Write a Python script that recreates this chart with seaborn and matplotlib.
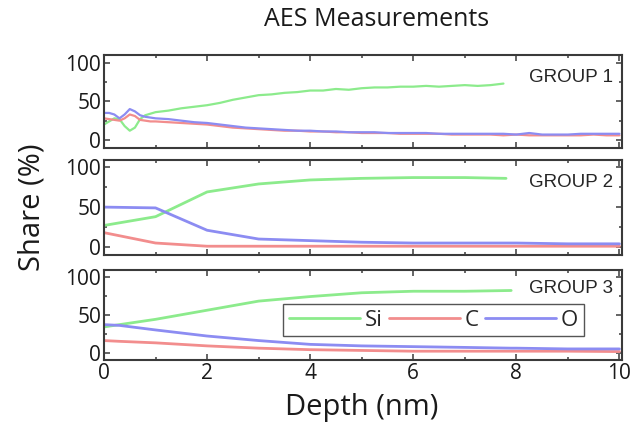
import numpy as np
import pandas as pd
import matplotlib
matplotlib.use("Agg")
import matplotlib.pyplot as plt
import seaborn as sns
from matplotlib.ticker import MultipleLocator

# ---------------- data ----------------
elements = ["Si", "C", "O"]
group_names = ["GROUP 1", "GROUP 2", "GROUP 3"]

# Group 1 (noisy measurement)
depth1 = [0.0, 0.1, 0.2, 0.3, 0.4, 0.5, 0.6, 0.7, 0.8, 0.9, 1.0,
          1.25, 1.5, 1.75, 2.0, 2.25, 2.5, 2.75, 3.0, 3.25, 3.5, 3.75,
          4.0, 4.25, 4.5, 4.75, 5.0, 5.25, 5.5, 5.75, 6.0, 6.25, 6.5, 6.75,
          7.0, 7.25, 7.5, 7.75, 8.0, 8.25, 8.5, 8.75, 9.0, 9.25, 9.5, 9.75, 10.0]
si1 = [20, 24, 28, 27, 18, 12, 16, 27, 32, 34, 36,
       38, 41, 43, 45, 48, 52, 55, 58, 59, 61, 62,
       64, 64, 66, 65, 67, 68, 68, 69, 69, 70, 69, 70,
       71, 70, 71, 73, np.nan, np.nan, np.nan, np.nan, np.nan, np.nan, np.nan, np.nan, np.nan]
c1 = [28, 27, 26, 25, 28, 33, 31, 26, 25, 24, 24,
      23, 22, 21, 20, 18, 16, 15, 14, 13, 12, 12,
      11, 11, 10, 10, 9, 9, 9, 8, 8, 8, 8, 7,
      7, 7, 7, 6, 7, 6, 6, 6, 6, 6, 7, 6, 6]
o1 = [35, 35, 33, 28, 33, 40, 37, 32, 30, 29, 28,
      27, 25, 23, 22, 20, 18, 16, 15, 14, 13, 12,
      12, 11, 11, 10, 10, 10, 9, 9, 9, 9, 8, 8,
      8, 8, 8, 8, 7, 9, 7, 7, 7, 8, 8, 8, 8]

# Group 2
depth2 = [0, 1, 2, 3, 4, 5, 6, 7, 7.8, 8, 9, 10]
si2 = [27, 38, 69, 79, 84, 86, 87, 87, 86, np.nan, np.nan, np.nan]
c2 = [18, 5, 1, 1, 1, 1, 1, 1, 1, 1, 1, 1]
o2 = [50, 49, 21, 10, 8, 6, 5, 5, 5, 5, 4, 4]

# Group 3
depth3 = [0, 0.3, 1, 2, 3, 4, 5, 6, 7, 7.9, 8, 9, 10]
si3 = [34, 37, 44, 56, 68, 74, 79, 81, 81, 82, np.nan, np.nan, np.nan]
c3 = [16, 15, 13, 9, 6, 4, 3, 2, 2, 2, 2, 2, 1.5]
o3 = [37, 36, 30, 22, 16, 11, 9, 8, 7, 6, 6, 5, 5]

colors = {"Si": "#8ceb8c", "C": "#f28d8d", "O": "#8c8cf2"}


def to_long(depth, si, c, o):
    frames = []
    for name, vals in zip(elements, [si, c, o]):
        frames.append(pd.DataFrame({"Depth": depth, "Share": vals, "Element": name}))
    return pd.concat(frames, ignore_index=True).dropna()


groups = [to_long(depth1, si1, c1, o1),
          to_long(depth2, si2, c2, o2),
          to_long(depth3, si3, c3, o3)]

# ---------------- style ----------------
sns.set_style("ticks")
plt.rcParams["font.family"] = ["Open Sans", "DejaVu Sans"]
spine_col = "#3a3a3a"

W, H = 633, 434
fig = plt.figure(figsize=(W / 100, H / 100), dpi=100)

# panel pixel boxes (top, bottom)
boxes = [(55, 148), (160, 255), (270, 360)]
ylims = [(-10.4, 110), (-10, 109), (-9.6, 109)]
left_px, right_px = 104, 622

axes = []
for i, ((top, bot), yl, df) in enumerate(zip(boxes, ylims, groups)):
    ax = fig.add_axes([left_px / W, 1 - bot / H, (right_px - left_px) / W, (bot - top) / H])
    sns.lineplot(data=df, x="Depth", y="Share", hue="Element", hue_order=elements,
                 palette=colors, linewidth=1.6 if i == 0 else 2.0,
                 legend=(i == 2), ax=ax, sort=False)
    ax.set_xlim(0, 10.05)
    ax.set_ylim(*yl)
    ax.set_xlabel("")
    ax.set_ylabel("")
    ax.xaxis.set_major_locator(MultipleLocator(2))
    ax.xaxis.set_minor_locator(MultipleLocator(1))
    ax.yaxis.set_major_locator(MultipleLocator(50))
    ax.yaxis.set_minor_locator(MultipleLocator(25))
    ax.tick_params(which="both", direction="in", top=True, right=True,
                   color=spine_col, width=1.1)
    ax.tick_params(which="major", length=4.5, labelsize=15, pad=2, labelcolor="#1a1a1a")
    ax.tick_params(which="minor", length=2.5)
    if i < 2:
        ax.tick_params(axis="x", labelbottom=False)
    for s in ax.spines.values():
        s.set_color(spine_col)
        s.set_linewidth(1.5)
    ax.text(0.982, 0.76 if i != 2 else 0.79, group_names[i], transform=ax.transAxes,
            ha="right", va="center", fontsize=13.5, family=["Liberation Sans", "DejaVu Sans"],
            color="#262626")
    axes.append(ax)

ax3 = axes[2]
handles, labels = ax3.get_legend_handles_labels()
leg = ax3.legend(handles, labels, ncol=3, loc="center", bbox_to_anchor=(0.636, 0.444),
                 fontsize=16, handlelength=3.2, handletextpad=0.2, columnspacing=0.3,
                 borderpad=0.25, frameon=True, fancybox=False, framealpha=1)
leg.get_frame().set_edgecolor("#555555")
leg.get_frame().set_linewidth(1.0)
for lh in leg.get_lines():
    lh.set_linewidth(2.0)

fig.text(377 / W, 1 - 20 / H, "AES Measurements", ha="center", va="center", fontsize=18,
         color="#1a1a1a")
fig.text(32 / W, 1 - 207 / H, "Share (%)", ha="center", va="center", rotation=90,
         fontsize=21, color="#1a1a1a")
fig.text(362 / W, 1 - 408 / H, "Depth (nm)", ha="center", va="center", fontsize=21,
         color="#1a1a1a")

fig.savefig("out.png", dpi=100)
